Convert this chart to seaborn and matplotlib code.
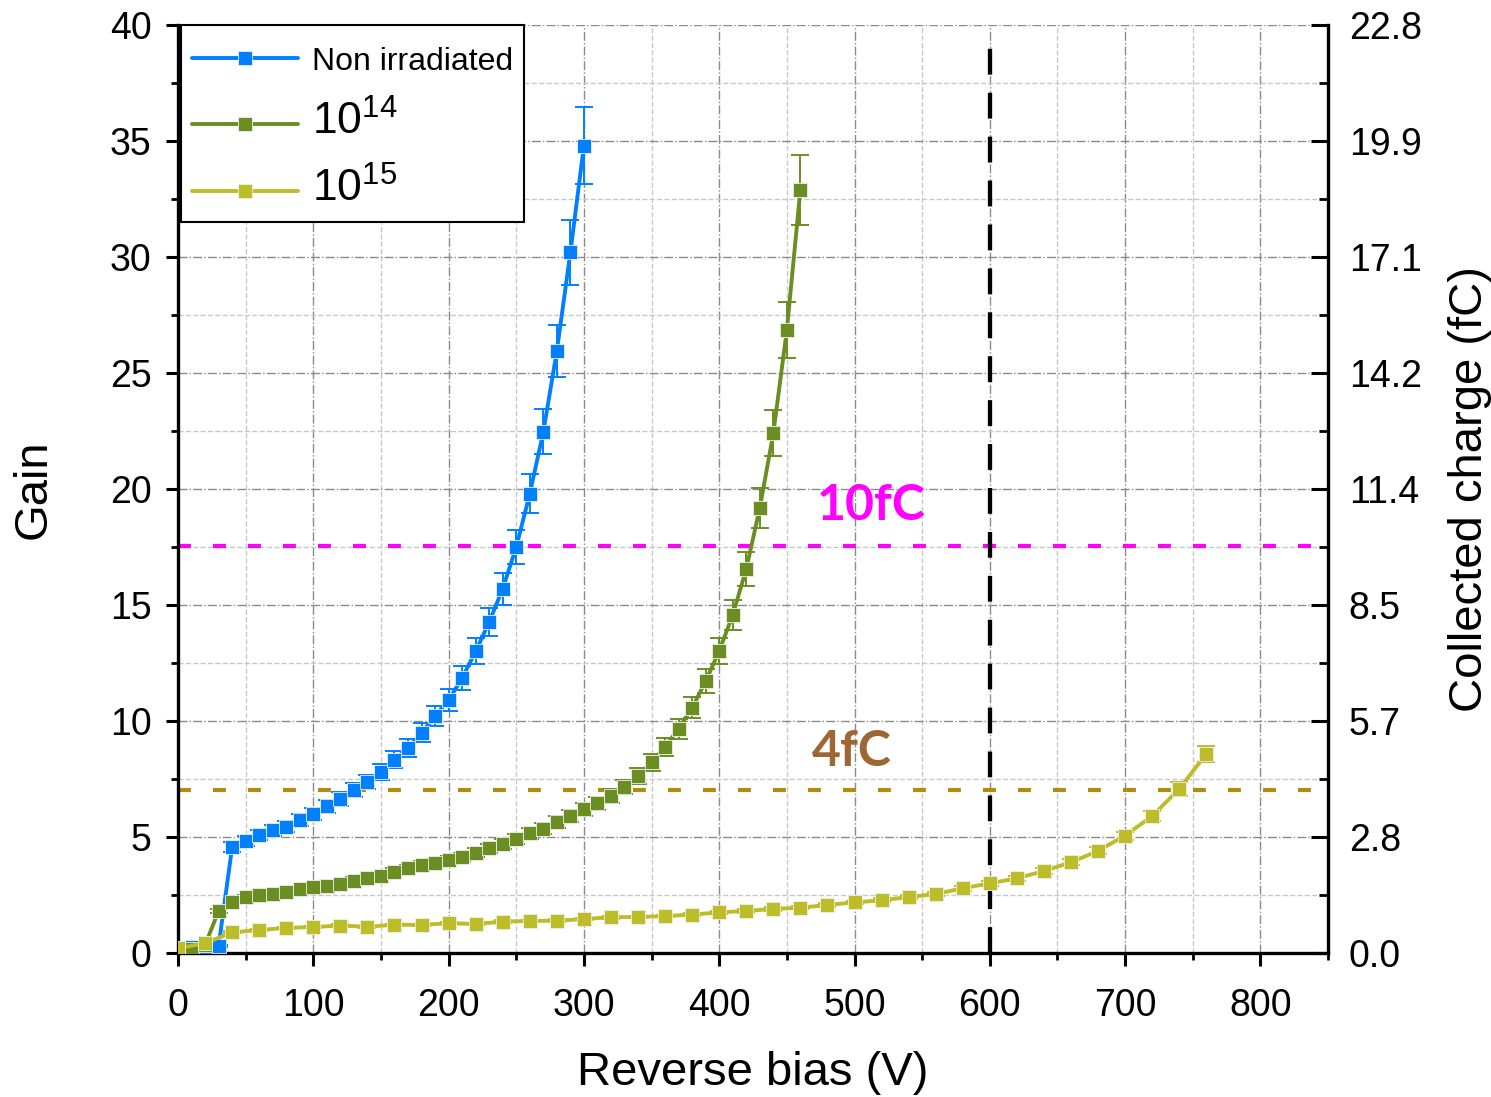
import numpy as np
import pandas as pd
import matplotlib
matplotlib.use("Agg")
import matplotlib.pyplot as plt
import seaborn as sns
from matplotlib.ticker import MultipleLocator

# ---------------- data ----------------
bias_non = list(range(0, 301, 10))
gain_non = [0.2, 0.25, 0.25, 0.3, 4.57, 4.83, 5.08, 5.28, 5.44, 5.73, 5.99, 6.32, 6.64,
            7.03, 7.37, 7.8, 8.33, 8.83, 9.49, 10.21, 10.9, 11.85, 13.0, 14.27, 15.7,
            17.5, 19.8, 22.46, 25.95, 30.2, 34.8]
err_non = [0.05, 0.05, 0.05, 0.05, 0.2, 0.2, 0.22, 0.23, 0.24, 0.25, 0.26, 0.28, 0.29,
           0.31, 0.32, 0.34, 0.36, 0.38, 0.41, 0.44, 0.47, 0.51, 0.56, 0.61, 0.68,
           0.75, 0.85, 0.97, 1.12, 1.4, 1.65]

bias_e14 = list(range(0, 461, 10))
gain_e14 = [0.1, 0.15, 0.35, 1.81, 2.21, 2.40, 2.49, 2.54, 2.63, 2.74, 2.83, 2.89, 2.96,
            3.12, 3.22, 3.32, 3.5, 3.65, 3.78, 3.87, 4.0, 4.14, 4.32, 4.51, 4.70, 4.9,
            5.16, 5.36, 5.65, 5.9, 6.19, 6.46, 6.78, 7.15, 7.63, 8.22, 8.89, 9.66, 10.57,
            11.71, 13.02, 14.57, 16.55, 19.18, 22.4, 26.85, 32.9]
err_e14 = [0.03, 0.03, 0.05, 0.1, 0.1, 0.1, 0.11, 0.11, 0.12, 0.12, 0.12, 0.13, 0.13,
           0.14, 0.14, 0.15, 0.15, 0.16, 0.17, 0.17, 0.18, 0.18, 0.19, 0.2, 0.21, 0.22,
           0.23, 0.24, 0.25, 0.26, 0.27, 0.28, 0.3, 0.31, 0.33, 0.36, 0.39, 0.42, 0.46,
           0.51, 0.57, 0.64, 0.73, 0.85, 0.99, 1.2, 1.5]

bias_e15 = list(range(0, 761, 20))
gain_e15 = [0.2, 0.42, 0.89, 0.99, 1.08, 1.12, 1.18, 1.13, 1.22, 1.21, 1.28, 1.25, 1.35,
            1.38, 1.39, 1.46, 1.54, 1.55, 1.59, 1.65, 1.75, 1.81, 1.90, 1.95, 2.07, 2.18,
            2.27, 2.41, 2.54, 2.79, 3.0, 3.22, 3.53, 3.91, 4.40, 5.06, 5.9, 7.07, 8.58]
err_e15 = [0.03, 0.04, 0.05, 0.05, 0.05, 0.05, 0.05, 0.05, 0.05, 0.05, 0.05, 0.05, 0.05,
           0.06, 0.06, 0.06, 0.06, 0.06, 0.06, 0.06, 0.07, 0.07, 0.07, 0.07, 0.08, 0.08,
           0.08, 0.09, 0.09, 0.1, 0.1, 0.11, 0.12, 0.13, 0.15, 0.17, 0.2, 0.3, 0.35]

series_names = ["Non irradiated", "1e14", "1e15"]
legend_labels = ["Non irradiated", "$10^{14}$", "$10^{15}$"]
colors = ["#0080FF", "#6B8E23", "#BDBD2A"]

fc_per_gain = 0.57            # collected charge (fC) per unit gain
charge_levels = [10, 4]       # fC threshold lines
charge_texts = ["10fC", "4fC"]
charge_colors = ["#FF00FF", "#B08D12"]
charge_text_colors = ["#FF00FF", "#9E6632"]
vline_bias = 600

right_tick_labels = ["0.0", "2.8", "5.7", "8.5", "11.4", "14.2", "17.1", "19.9", "22.8"]

# ---------------- style ----------------
sns.set_style("white")
plt.rcParams['font.family'] = ['Liberation Sans', 'DejaVu Sans']
plt.rcParams['mathtext.fontset'] = 'custom'
plt.rcParams['mathtext.rm'] = 'Liberation Sans'
plt.rcParams['mathtext.it'] = 'Liberation Sans:italic'
plt.rcParams['mathtext.bf'] = 'Liberation Sans:bold'
for k in ["text.color", "axes.labelcolor", "xtick.color", "ytick.color"]:
    plt.rcParams[k] = "black"

fig = plt.figure(figsize=(14.91, 10.97), dpi=100)
ax = fig.add_axes([0.1194, 0.1313, 0.7713, 0.8459])

df = pd.concat([
    pd.DataFrame({"bias": bias_non, "gain": gain_non, "series": series_names[0]}),
    pd.DataFrame({"bias": bias_e14, "gain": gain_e14, "series": series_names[1]}),
    pd.DataFrame({"bias": bias_e15, "gain": gain_e15, "series": series_names[2]}),
], ignore_index=True)

n0 = len(ax.lines)
sns.lineplot(data=df, x="bias", y="gain", hue="series", hue_order=series_names,
             palette=dict(zip(series_names, colors)), marker="s",
             markeredgecolor="#eeeeee", markeredgewidth=0.6,
             estimator=None, sort=False, legend=False, ax=ax, zorder=3)
handles = ax.lines[n0:n0 + 3]
for h in handles:
    h.set_linewidth(2.8)
    h.set_markersize(10)

for xb, yg, er, c in [(bias_non, gain_non, err_non, colors[0]),
                      (bias_e14, gain_e14, err_e14, colors[1]),
                      (bias_e15, gain_e15, err_e15, colors[2])]:
    ax.errorbar(xb, yg, yerr=er, fmt="none", ecolor=c, elinewidth=1.4,
                capsize=6.5, capthick=1.4, zorder=2.5)

# threshold lines
for lvl, col in zip(charge_levels, charge_colors):
    ax.axhline(lvl / fc_per_gain, color=col, lw=3.0, ls=(0, (3.1, 5.3)), zorder=2)
ax.text(512, 19.3, charge_texts[0], color=charge_text_colors[0], fontsize=36,
        fontweight="bold", family="Lato", ha="center", va="center")
ax.text(498, 8.7, charge_texts[1], color=charge_text_colors[1], fontsize=36,
        fontweight="bold", family="Lato", ha="center", va="center")
ax.axvline(vline_bias, ymin=0, ymax=0.978, color="black", lw=3.1, ls=(0, (6, 4.2)), zorder=2)

# axes / ticks
ax.set_xlim(0, 850)
ax.set_ylim(0, 40)
ax.xaxis.set_major_locator(MultipleLocator(100))
ax.xaxis.set_minor_locator(MultipleLocator(50))
ax.yaxis.set_major_locator(MultipleLocator(5))
ax.yaxis.set_minor_locator(MultipleLocator(2.5))
ax.set_axisbelow(True)
ax.grid(which="major", color="#8a8a8a", ls="-.", lw=1.0)
ax.grid(which="minor", color="#c8c8c8", ls="--", lw=1.0)
ax.tick_params(axis="both", which="major", direction="out", length=9, width=2.2,
               labelsize=27, pad=10, colors="black", left=True, bottom=True,
               right=False, top=False)
ax.tick_params(axis="x", which="major", pad=16)
ax.tick_params(axis="both", which="minor", direction="out", length=5, width=2.0,
               left=True, bottom=True, right=False, top=False)
for s in ["left", "bottom"]:
    ax.spines[s].set_linewidth(2.4)
    ax.spines[s].set_color("black")
ax.spines["top"].set_visible(False)
ax.spines["right"].set_visible(False)

ax.set_xlabel("Reverse bias (V)", fontsize=34, labelpad=20)
ax.set_ylabel("Gain", fontsize=34, labelpad=39)

ax2 = ax.twinx()
ax2.set_ylim(0, 40)
ax2.set_yticks(np.arange(0, 41, 5))
ax2.set_yticklabels(right_tick_labels)
ax2.yaxis.set_minor_locator(MultipleLocator(2.5))
ax2.tick_params(axis="y", which="major", direction="in", length=12, width=2.2,
                labelsize=27, pad=15, right=True, left=False, colors="black")
ax2.tick_params(axis="y", which="minor", direction="in", length=6.5, width=2.0,
                right=True, left=False)
ax2.grid(False)
for s in ["top", "left", "bottom"]:
    ax2.spines[s].set_visible(False)
ax2.spines["right"].set_linewidth(2.4)
ax2.spines["right"].set_color("black")
ax2.set_ylabel("Collected charge (fC)", fontsize=34, labelpad=19)

leg = ax2.legend(handles, legend_labels, loc="upper left", bbox_to_anchor=(0.0026, 1.0),
                 borderaxespad=0, fontsize=23, frameon=True, fancybox=False,
                 edgecolor="black", framealpha=1, handlelength=3.3, handletextpad=0.45,
                 borderpad=0.35, labelspacing=0.75)
leg.get_frame().set_linewidth(1.5)
for t in leg.get_texts()[1:]:
    t.set_fontsize(32)
# give the first (smaller-font) legend row a little extra headroom
try:
    first_row = leg._legend_handle_box.get_children()[0].get_children()[0]
    first_row.get_children()[0].height += 8
except Exception:
    pass

fig.savefig("out.png", dpi=100)
